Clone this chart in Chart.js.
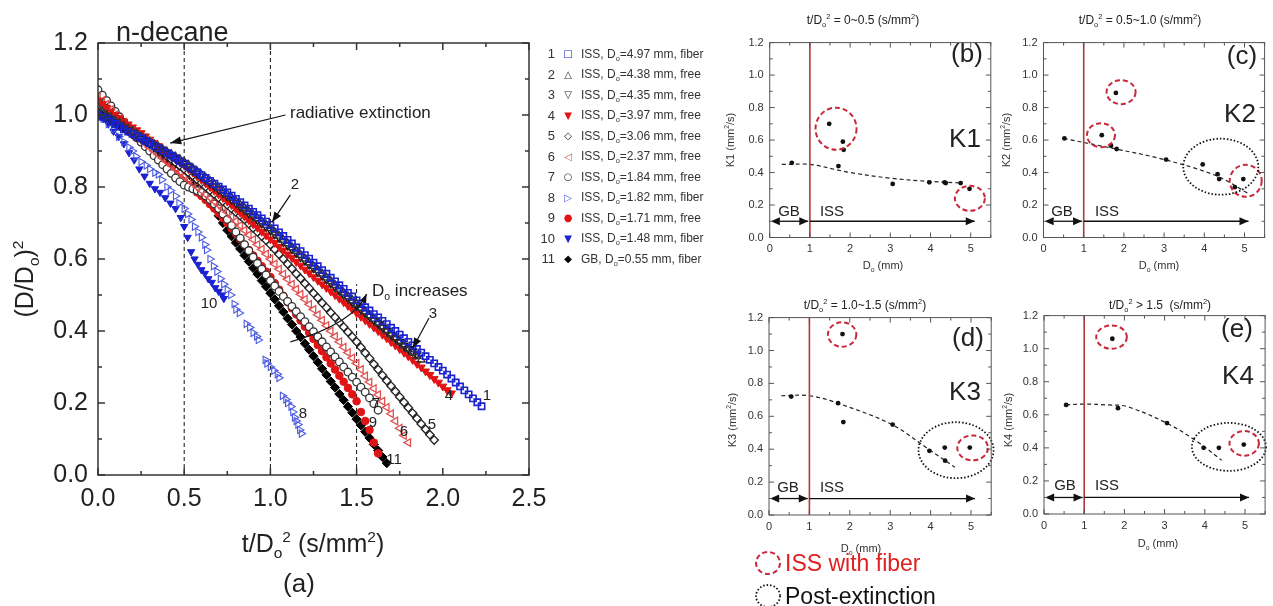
<!DOCTYPE html>
<html><head><meta charset="utf-8">
<script src="https://cdn.jsdelivr.net/npm/chart.js@4.4.1/dist/chart.umd.min.js"></script>
<style>
html,body{margin:0;padding:0;background:#fff;}
#wrap{position:relative;width:1273px;height:606px;overflow:hidden;font-family:"Liberation Sans",Arial,sans-serif;color:#222;}
canvas{position:absolute;}
svg{position:absolute;left:0;top:0;}
.t{position:absolute;white-space:nowrap;line-height:1;transform:translate(-50%,-50%);}
.l{position:absolute;white-space:nowrap;line-height:1;transform:translate(0,-50%);}
.vt{transform:translate(-50%,-50%) rotate(-90deg);}
sub,sup{font-size:0.62em;line-height:0;}
.leg{position:absolute;left:535px;display:flex;align-items:center;transform:translateY(-50%);white-space:nowrap;}
.leg .n{width:20px;text-align:right;font-size:13px;color:#333;}
.leg .m{width:26px;text-align:center;font-family:"DejaVu Sans",sans-serif;font-size:10px;}
.leg .s{font-size:12px;color:#333;}
</style></head>
<body>
<div id="wrap">
  <canvas id="ca"></canvas>
  <canvas id="cb"></canvas>
  <canvas id="cc"></canvas>
  <canvas id="cd"></canvas>
  <canvas id="ce"></canvas>
  <svg width="1273" height="606">
    <ellipse cx="768" cy="563" rx="12" ry="11" fill="none" stroke="#c8283c" stroke-width="2" stroke-dasharray="5 3"/>
    <ellipse cx="768" cy="596" rx="12" ry="11" fill="none" stroke="#111" stroke-width="1.8" stroke-dasharray="1.5 2"/>
  </svg>

  <!-- (a) texts -->
  <div class="l" style="left:116px;top:32px;font-size:27px">n-decane</div>
  <div class="l" style="left:290px;top:112px;font-size:17px">radiative extinction</div>
  <div class="l" style="left:372px;top:290px;font-size:17px">D<sub>o</sub> increases</div>
  <div class="t vt" style="left:24px;top:279px;font-size:25px">(D/D<sub>o</sub>)<sup>2</sup></div>
  <div class="t" style="left:313px;top:543px;font-size:25px">t/D<sub>o</sub><sup>2</sup> (s/mm<sup>2</sup>)</div>
  <div class="t" style="left:299px;top:583px;font-size:26px">(a)</div>
  <div id="alabels"></div>
  <div id="legend"></div>

  <!-- (b) -->
  <div class="t" style="left:863px;top:20px;font-size:12px">t/D<sub>o</sub><sup>2</sup> = 0~0.5 (s/mm<sup>2</sup>)</div>
  <div class="t" style="left:967px;top:53px;font-size:26px">(b)</div>
  <div class="t" style="left:965px;top:138px;font-size:26px">K1</div>
  <div class="t" style="left:789px;top:210px;font-size:15px">GB</div>
  <div class="t" style="left:832px;top:210px;font-size:15px">ISS</div>
  <div class="t" style="left:883px;top:265px;font-size:11px;color:#333">D<sub>o</sub> (mm)</div>
  <div class="t vt" style="left:730px;top:140px;font-size:11px;color:#333">K1 (mm<sup>2</sup>/s)</div>

  <!-- (c) -->
  <div class="t" style="left:1140px;top:20px;font-size:12px">t/D<sub>o</sub><sup>2</sup> = 0.5~1.0 (s/mm<sup>2</sup>)</div>
  <div class="t" style="left:1242px;top:55px;font-size:26px">(c)</div>
  <div class="t" style="left:1240px;top:113px;font-size:26px">K2</div>
  <div class="t" style="left:1062px;top:210px;font-size:15px">GB</div>
  <div class="t" style="left:1107px;top:210px;font-size:15px">ISS</div>
  <div class="t" style="left:1159px;top:265px;font-size:11px;color:#333">D<sub>o</sub> (mm)</div>
  <div class="t vt" style="left:1006px;top:140px;font-size:11px;color:#333">K2 (mm<sup>2</sup>/s)</div>

  <!-- (d) -->
  <div class="t" style="left:865px;top:305px;font-size:12px">t/D<sub>o</sub><sup>2</sup> = 1.0~1.5 (s/mm<sup>2</sup>)</div>
  <div class="t" style="left:968px;top:337px;font-size:26px">(d)</div>
  <div class="t" style="left:965px;top:391px;font-size:26px">K3</div>
  <div class="t" style="left:788px;top:486px;font-size:15px">GB</div>
  <div class="t" style="left:832px;top:486px;font-size:15px">ISS</div>
  <div class="t" style="left:861px;top:548px;font-size:11px;color:#333">D<sub>o</sub> (mm)</div>
  <div class="t vt" style="left:732px;top:420px;font-size:11px;color:#333">K3 (mm<sup>2</sup>/s)</div>
  <div class="l" style="left:785px;top:563px;font-size:23px;color:#e02020">ISS with fiber</div>
  <div class="l" style="left:785px;top:596px;font-size:23px;color:#111">Post-extinction</div>

  <!-- (e) -->
  <div class="t" style="left:1160px;top:305px;font-size:12px">t/D<sub>o</sub><sup>2</sup> &gt; 1.5&nbsp; (s/mm<sup>2</sup>)</div>
  <div class="t" style="left:1237px;top:328px;font-size:26px">(e)</div>
  <div class="t" style="left:1238px;top:375px;font-size:26px">K4</div>
  <div class="t" style="left:1065px;top:484px;font-size:15px">GB</div>
  <div class="t" style="left:1107px;top:484px;font-size:15px">ISS</div>
  <div class="t" style="left:1158px;top:543px;font-size:11px;color:#333">D<sub>o</sub> (mm)</div>
  <div class="t vt" style="left:1008px;top:420px;font-size:11px;color:#333">K4 (mm<sup>2</sup>/s)</div>
</div>

<script>
// ---- data: (a) normalized diameter squared vs t/Do^2 ----
const mainXTicks = [0, 0.5, 1.0, 1.5, 2.0, 2.5]
const mainYTicks = [0, 0.2, 0.4, 0.6, 0.8, 1.0, 1.2]
const regionLines = [[0.5, 1.2], [1.0, 1.2], [1.5, 0.53]]

// sampling times (t/Do^2) shared by the dense series
const tGrid = [0,0.025,0.05,0.075,0.1,0.125,0.15,0.175,0.2,0.225,0.25,0.275,0.3,0.325,0.35,0.375,0.4,0.425,0.45,0.475,
  0.5,0.525,0.55,0.575,0.6,0.625,0.65,0.675,0.7,0.725,0.75,0.775,0.8,0.825,0.85,0.875,0.9,0.925,0.95,0.975,
  1.0,1.025,1.05,1.075,1.1,1.125,1.15,1.175,1.2,1.225,1.25,1.275,1.3,1.325,1.35,1.375,1.4,1.425,1.45,1.475,
  1.5,1.525,1.55,1.575,1.6,1.625,1.65,1.675,1.7,1.725,1.75,1.775,1.8,1.825,1.85,1.875,1.9,1.925,1.95,1.975,
  2.0,2.025,2.05,2.075,2.1,2.125,2.15,2.175,2.2,2.225]

const d1 = [1.00,0.995,0.99,0.982,0.975,0.968,0.96,0.954,0.948,0.941,0.935,
  0.928,0.922,0.915,0.908,0.901,0.894,0.887,0.88,0.872,0.865,
  0.857,0.849,0.841,0.833,0.825,0.817,0.809,0.801,0.793,0.785,
  0.776,0.767,0.758,0.749,0.74,0.731,0.722,0.713,0.704,0.695,
  0.685,0.674,0.664,0.653,0.643,0.632,0.622,0.611,0.601,0.59,
  0.58,0.569,0.559,0.548,0.538,0.527,0.517,0.506,0.496,0.485,
  0.476,0.466,0.457,0.447,0.438,0.428,0.419,0.409,0.4,0.39,
  0.38,0.37,0.36,0.35,0.34,0.33,0.32,0.31,0.3,0.29,
  0.279,0.268,0.257,0.246,0.235,0.224,0.213,0.202,0.191]
const d2 = [1.02,1.01,1.0,0.993,0.985,0.978,0.97,0.962,0.955,0.948,0.94,
  0.933,0.926,0.919,0.912,0.905,0.898,0.891,0.884,0.877,0.87,
  0.861,0.852,0.843,0.834,0.825,0.816,0.807,0.798,0.789,0.78,
  0.77,0.761,0.751,0.742,0.732,0.723,0.713,0.704,0.694,0.685,
  0.674,0.664,0.653,0.643,0.632,0.622,0.611,0.601,0.59,0.58,
  0.569,0.559,0.548,0.538,0.527,0.517,0.506,0.496,0.485,0.475,
  0.464,0.454,0.443,0.433,0.422,0.412,0.401,0.391,0.38,0.37,
  0.36,0.35,0.34,0.33,0.32]
const d3 = [1.01,1.002,0.995,0.988,0.98,0.972,0.965,0.958,0.95,0.942,0.935,
  0.928,0.921,0.914,0.907,0.9,0.893,0.886,0.879,0.872,0.865,
  0.856,0.847,0.838,0.829,0.82,0.811,0.802,0.793,0.784,0.775,
  0.765,0.756,0.746,0.737,0.727,0.718,0.708,0.699,0.689,0.68,
  0.669,0.659,0.648,0.638,0.627,0.617,0.606,0.596,0.585,0.575,
  0.564,0.554,0.543,0.533,0.522,0.512,0.501,0.491,0.48,0.47,
  0.46,0.45,0.44,0.43,0.42,0.41,0.4,0.39,0.38,0.37,
  0.36,0.35,0.343,0.335]
const d4 = [1.04,1.03,1.02,1.01,1.0,0.991,0.982,0.974,0.966,0.958,0.95,
  0.941,0.932,0.923,0.914,0.905,0.896,0.887,0.878,0.869,0.86,
  0.85,0.84,0.83,0.82,0.81,0.80,0.79,0.78,0.77,0.76,
  0.75,0.739,0.729,0.718,0.708,0.697,0.687,0.676,0.666,0.655,
  0.645,0.634,0.624,0.613,0.603,0.592,0.582,0.571,0.561,0.55,
  0.54,0.53,0.52,0.51,0.5,0.49,0.48,0.47,0.46,0.45,
  0.44,0.43,0.42,0.41,0.4,0.39,0.38,0.37,0.36,0.35,
  0.34,0.33,0.32,0.309,0.299,0.288,0.278,0.267,0.257,0.246,
  0.236,0.227]
const d5 = [1.03,1.02,1.01,1.002,0.995,0.986,0.977,0.968,0.958,0.949,0.94,
  0.931,0.922,0.913,0.904,0.895,0.886,0.877,0.868,0.859,0.85,
  0.84,0.831,0.821,0.812,0.801,0.79,0.78,0.77,0.76,0.75,
  0.74,0.73,0.72,0.71,0.698,0.686,0.675,0.663,0.652,0.64,
  0.627,0.613,0.6,0.586,0.573,0.559,0.546,0.532,0.519,0.505,
  0.492,0.478,0.465,0.451,0.438,0.424,0.411,0.397,0.384,0.37,
  0.355,0.339,0.324,0.308,0.293,0.277,0.262,0.247,0.232,0.217,
  0.202,0.187,0.172,0.157,0.142,0.127,0.112,0.097]
const d6 = [1.05,1.04,1.03,1.015,1.0,0.99,0.98,0.968,0.955,0.943,0.93,
  0.92,0.91,0.9,0.89,0.88,0.87,0.86,0.85,0.84,0.83,
  0.82,0.81,0.8,0.79,0.78,0.77,0.76,0.75,0.74,0.73,
  0.718,0.705,0.693,0.68,0.667,0.654,0.64,0.627,0.614,0.6,
  0.586,0.572,0.558,0.544,0.53,0.516,0.502,0.488,0.474,0.46,
  0.445,0.43,0.415,0.4,0.385,0.37,0.355,0.34,0.325,0.31,
  0.293,0.275,0.258,0.24,0.223,0.205,0.188,0.17,0.15,0.13,
  0.11,0.09]
const d7 = [1.07,1.055,1.04,1.025,1.01,0.995,0.98,0.965,0.95,0.938,0.925,
  0.912,0.9,0.887,0.875,0.862,0.85,0.838,0.825,0.815,0.805,
  0.8,0.795,0.79,0.785,0.775,0.765,0.753,0.74,0.725,0.71,
  0.693,0.675,0.658,0.64,0.623,0.605,0.588,0.572,0.556,0.54,
  0.525,0.51,0.496,0.482,0.468,0.454,0.44,0.426,0.412,0.398,
  0.384,0.37,0.356,0.342,0.328,0.314,0.3,0.286,0.272,0.258,
  0.244,0.23,0.214,0.198,0.18]
const d9 = [1.04,1.03,1.02,1.008,0.995,0.983,0.97,0.959,0.948,0.936,0.925,
  0.914,0.903,0.892,0.88,0.869,0.858,0.847,0.836,0.825,0.815,
  0.805,0.795,0.785,0.775,0.764,0.752,0.74,0.727,0.714,0.70,
  0.685,0.67,0.655,0.64,0.625,0.61,0.595,0.58,0.565,0.55,
  0.533,0.515,0.498,0.48,0.463,0.446,0.429,0.412,0.395,0.378,
  0.361,0.344,0.327,0.31,0.293,0.276,0.259,0.242,0.224,0.205,
  0.175,0.15,0.125,0.09,0.06]
const d11 = [1.01,1.002,0.995,0.987,0.98,0.971,0.963,0.955,0.946,0.938,0.93,
  0.922,0.913,0.905,0.896,0.888,0.88,0.872,0.865,0.857,0.85,
  0.838,0.825,0.811,0.797,0.781,0.764,0.742,0.72,0.7,0.68,
  0.663,0.645,0.628,0.61,0.593,0.575,0.558,0.54,0.523,0.505,
  0.488,0.47,0.453,0.435,0.418,0.4,0.383,0.365,0.348,0.33,
  0.313,0.295,0.278,0.26,0.243,0.225,0.208,0.19,0.173,0.155,
  0.138,0.12,0.103,0.085,0.068,0.05,0.033]
// sparse fiber runs, read point by point
const s8 = [[0,1.0],[0.03,0.99],[0.06,0.975],[0.09,0.96],[0.12,0.94],[0.15,0.925],[0.18,0.91],[0.2,0.9],[0.22,0.885],[0.25,0.87],[0.28,0.86],[0.3,0.85],[0.33,0.84],[0.35,0.835],[0.37,0.82],[0.4,0.8],[0.42,0.79],[0.45,0.775],[0.47,0.755],[0.5,0.74],[0.52,0.725],[0.54,0.71],[0.56,0.69],[0.58,0.675],[0.6,0.66],[0.62,0.64],[0.63,0.625],[0.65,0.6],[0.67,0.58],[0.69,0.565],[0.71,0.545],[0.73,0.53],[0.75,0.515],[0.77,0.5],[0.79,0.475],[0.8,0.46],[0.82,0.45],[0.86,0.42],[0.88,0.41],[0.9,0.395],[0.92,0.385],[0.93,0.375],[0.97,0.32],[0.98,0.31],[1.0,0.3],[1.02,0.29],[1.04,0.28],[1.05,0.27],[1.07,0.22],[1.09,0.21],[1.1,0.2],[1.12,0.19],[1.13,0.175],[1.14,0.16],[1.15,0.15],[1.16,0.14],[1.17,0.125],[1.18,0.115]]
const s10 = [[0,1.0],[0.03,0.99],[0.06,0.975],[0.09,0.955],[0.12,0.94],[0.15,0.92],[0.18,0.895],[0.21,0.875],[0.24,0.85],[0.27,0.83],[0.3,0.81],[0.33,0.795],[0.36,0.785],[0.39,0.77],[0.42,0.755],[0.45,0.74],[0.48,0.715],[0.5,0.69],[0.52,0.66],[0.54,0.62],[0.56,0.6],[0.58,0.585],[0.6,0.57],[0.62,0.56],[0.64,0.545],[0.66,0.535],[0.68,0.52],[0.7,0.51],[0.72,0.5],[0.73,0.49]]

const onGrid = (ys) => ys.map((y, i) => [tGrid[i], y])
const mainSeries = [onGrid(d1), onGrid(d2), onGrid(d3), onGrid(d4), onGrid(d5), onGrid(d6), onGrid(d7), s8, onGrid(d9), s10, onGrid(d11)]

const legendSrc = ['ISS','ISS','ISS','ISS','ISS','ISS','ISS','ISS','ISS','ISS','GB']
const legendDo = ['4.97','4.38','4.35','3.97','3.06','2.37','1.84','1.82','1.71','1.48','0.55']
const legendMount = ['fiber','free','free','free','free','free','free','fiber','free','fiber','fiber']

// ---- data: (b)-(e) rate constants vs Do ----
const doTicks = [0, 1, 2, 3, 4, 5]
const kTicks = [0, 0.2, 0.4, 0.6, 0.8, 1.0, 1.2]
const k1Pts = [[0.55,0.46],[1.48,0.70],[1.82,0.59],[1.84,0.54],[1.71,0.44],[3.06,0.33],[3.97,0.34],[4.35,0.34],[4.38,0.335],[4.75,0.335],[4.97,0.30]]
const k1Fit = [[0.3,0.45],[1.0,0.45],[1.7,0.415],[2.0,0.40],[3.0,0.365],[4.0,0.345],[4.8,0.335]]
const k2Pts = [[0.52,0.61],[1.45,0.63],[1.80,0.89],[1.68,0.565],[1.82,0.545],[3.05,0.48],[3.96,0.45],[4.33,0.39],[4.37,0.36],[4.76,0.31],[4.97,0.36]]
const k2Fit = [[0.5,0.61],[1.7,0.55],[3.0,0.48],[4.3,0.38],[5.1,0.27]]
const k3Pts = [[0.55,0.72],[1.82,1.10],[1.71,0.68],[1.84,0.565],[3.06,0.55],[3.97,0.39],[4.35,0.41],[4.36,0.33],[4.97,0.41]]
const k3Fit = [[0.3,0.725],[1.0,0.725],[1.7,0.68],[3.04,0.55],[3.95,0.40],[4.6,0.29]]
const k4Pts = [[0.55,0.66],[1.70,1.06],[1.84,0.64],[3.06,0.55],[3.97,0.40],[4.35,0.40],[4.97,0.42]]
const k4Fit = [[0.55,0.66],[1.0,0.665],[1.56,0.66],[2.06,0.65],[3.05,0.55],[3.8,0.44],[4.42,0.325]]
// GB / ISS ranges at K = 0.1
const gbRange = [0.03, 0.96]
const issRange = [1.0, 5.1]

// ---- styling ----
Chart.defaults.font.family = '"Liberation Sans", Arial, sans-serif'
const markStyles = [
  { ps: 'rect', rot: 0, r: 4.4, w: 1.6, c: '#1a22d0', bg: 'rgba(0,0,0,0)', g: '\u25A1' },
  { ps: 'triangle', rot: 0, r: 4.4, w: 1.4, c: '#333', bg: 'rgba(0,0,0,0)', g: '\u25B3' },
  { ps: 'triangle', rot: 180, r: 4.4, w: 1.4, c: '#111', bg: 'rgba(0,0,0,0)', g: '\u25BD' },
  { ps: 'triangle', rot: 180, r: 4.6, w: 1, c: '#e01414', bg: '#e01414', g: '\u25BC' },
  { ps: 'rectRot', rot: 0, r: 4.2, w: 1.3, c: '#222', bg: '#fff', g: '\u25C7' },
  { ps: 'triangle', rot: 270, r: 4.4, w: 1.3, c: '#e05050', bg: 'rgba(0,0,0,0)', g: '\u25C1' },
  { ps: 'circle', rot: 0, r: 3.8, w: 1.3, c: '#333', bg: '#fff', g: '\u25CB' },
  { ps: 'triangle', rot: 90, r: 4.2, w: 1.1, c: '#4a5ae0', bg: 'rgba(0,0,0,0)', g: '\u25B7' },
  { ps: 'circle', rot: 0, r: 3.8, w: 1, c: '#e01414', bg: '#e01414', g: '\u25CF' },
  { ps: 'triangle', rot: 180, r: 4.2, w: 1, c: '#1a22d0', bg: '#1a22d0', g: '\u25BC' },
  { ps: 'rectRot', rot: 0, r: 4.6, w: 1, c: '#000', bg: '#000', g: '\u25C6' },
]
const curveLabels = [
  ['1', 487, 394], ['4', 449, 394], ['5', 432, 423], ['6', 404, 430], ['7', 376, 402],
  ['9', 373, 421], ['11', 394, 458], ['8', 303, 412], ['10', 209, 302], ['2', 295, 183], ['3', 433, 312],
]

function head(ctx, x1, y1, x2, y2, len, hw) {
  const a = Math.atan2(y2 - y1, x2 - x1)
  ctx.beginPath()
  ctx.moveTo(x2, y2)
  ctx.lineTo(x2 - len * Math.cos(a) + hw * Math.sin(a), y2 - len * Math.sin(a) - hw * Math.cos(a))
  ctx.lineTo(x2 - len * Math.cos(a) - hw * Math.sin(a), y2 - len * Math.sin(a) + hw * Math.cos(a))
  ctx.closePath()
  ctx.fill()
}
function arrow(ctx, x1, y1, x2, y2, len, hw) {
  ctx.beginPath()
  ctx.moveTo(x1, y1)
  ctx.lineTo(x2, y2)
  ctx.stroke()
  head(ctx, x1, y1, x2, y2, len, hw)
}

// frame with inward ticks on all four sides
function frameTicks(o) {
  return {
    id: 'frameTicks',
    afterDraw(chart) {
      const { ctx, chartArea: a, scales: { x, y } } = chart
      ctx.save()
      ctx.strokeStyle = o.color
      ctx.lineWidth = o.width
      ctx.strokeRect(a.left, a.top, a.right - a.left, a.bottom - a.top)
      ctx.beginPath()
      for (let k = 0; x.min + k * o.xStep <= x.max + 1e-9; k++) {
        const px = x.getPixelForValue(x.min + k * o.xStep)
        const len = k % 2 === 0 ? o.major : o.minor
        ctx.moveTo(px, a.bottom); ctx.lineTo(px, a.bottom - len)
        ctx.moveTo(px, a.top); ctx.lineTo(px, a.top + len)
      }
      for (let k = 0; y.min + k * o.yStep <= y.max + 1e-9; k++) {
        const py = y.getPixelForValue(y.min + k * o.yStep)
        const len = k % 2 === 0 ? o.major : o.minor
        ctx.moveTo(a.left, py); ctx.lineTo(a.left + len, py)
        ctx.moveTo(a.right, py); ctx.lineTo(a.right - len, py)
      }
      ctx.stroke()
      ctx.restore()
    },
  }
}

const mainDecor = {
  id: 'mainDecor',
  beforeDatasetsDraw(chart) {
    const { ctx, scales: { x, y } } = chart
    ctx.save()
    ctx.strokeStyle = '#111'
    ctx.lineWidth = 1
    ctx.setLineDash([4, 3])
    regionLines.forEach(([xv, yTop]) => {
      ctx.beginPath()
      ctx.moveTo(x.getPixelForValue(xv), y.getPixelForValue(0))
      ctx.lineTo(x.getPixelForValue(xv), y.getPixelForValue(yTop))
      ctx.stroke()
    })
    ctx.restore()
  },
  afterDatasetsDraw(chart) {
    const { ctx, scales: { x, y } } = chart
    const X = (v) => x.getPixelForValue(v)
    const Y = (v) => y.getPixelForValue(v)
    ctx.save()
    ctx.strokeStyle = '#111'
    ctx.fillStyle = '#111'
    ctx.lineWidth = 1.2
    arrow(ctx, X(1.087), Y(1.0), X(0.419), Y(0.922), 11, 4)
    arrow(ctx, X(1.116), Y(0.778), X(1.01), Y(0.703), 10, 4)
    arrow(ctx, X(1.92), Y(0.436), X(1.826), Y(0.353), 10, 4)
    ctx.beginPath()
    ctx.moveTo(X(1.116), Y(0.37))
    ctx.quadraticCurveTo(X(1.48), Y(0.42), X(1.558), Y(0.503))
    ctx.stroke()
    head(ctx, X(1.48), Y(0.42), X(1.558), Y(0.503), 9, 3.5)
    ctx.restore()
  },
}

function smallDecor(ells) {
  return {
    id: 'smallDecor',
    afterDatasetsDraw(chart) {
      const { ctx, scales: { x, y } } = chart
      const X = (v) => x.getPixelForValue(v)
      const Y = (v) => y.getPixelForValue(v)
      ctx.save()
      ctx.strokeStyle = '#b03a3a'
      ctx.lineWidth = 1.6
      ctx.beginPath()
      ctx.moveTo(X(1), Y(0)); ctx.lineTo(X(1), Y(1.2))
      ctx.stroke()
      ctx.strokeStyle = '#111'
      ctx.fillStyle = '#111'
      ctx.lineWidth = 1.3
      const ya = Y(0.1)
      arrow(ctx, X(gbRange[0]) + 9, ya, X(gbRange[1]), ya, 9, 4)
      head(ctx, X(gbRange[1]), ya, X(gbRange[0]), ya, 9, 4)
      arrow(ctx, X(issRange[0]), ya, X(issRange[1]), ya, 9, 4)
      ells.forEach((e) => {
        ctx.beginPath()
        if (e.red) {
          ctx.strokeStyle = '#c8283c'; ctx.lineWidth = 2; ctx.setLineDash([5, 3])
        } else {
          ctx.strokeStyle = '#111'; ctx.lineWidth = 1.8; ctx.setLineDash([1.5, 2])
        }
        ctx.ellipse(X(e.x), Y(e.y), e.rx, e.ry, 0, 0, Math.PI * 2)
        ctx.stroke()
      })
      ctx.restore()
    },
  }
}

// ---- (a) ----
const ca = document.getElementById('ca')
ca.width = 556; ca.height = 606
ca.style.left = '0px'; ca.style.top = '0px'
new Chart(ca, {
  type: 'scatter',
  data: {
    datasets: mainSeries.map((s, i) => ({
      data: s.map(([x, y]) => ({ x, y })),
      pointStyle: markStyles[i].ps,
      rotation: markStyles[i].rot,
      pointRadius: markStyles[i].r,
      pointBorderWidth: markStyles[i].w,
      pointBorderColor: markStyles[i].c,
      pointBackgroundColor: markStyles[i].bg,
    })),
  },
  options: {
    responsive: false,
    animation: false,
    events: [],
    layout: { padding: { left: 0, top: 43, right: 27, bottom: 0 } },
    plugins: { legend: { display: false }, tooltip: { enabled: false } },
    scales: {
      x: {
        type: 'linear', min: 0, max: 2.5,
        grid: { display: false, drawTicks: false }, border: { display: false },
        afterBuildTicks: (s) => { s.ticks = mainXTicks.map((v) => ({ value: v })) },
        ticks: { padding: 9, color: '#222', font: { size: 25 }, maxRotation: 0, autoSkip: false, callback: (v) => v.toFixed(1) },
        afterFit: (s) => { s.height = 131 },
      },
      y: {
        type: 'linear', min: 0, max: 1.2,
        grid: { display: false, drawTicks: false }, border: { display: false },
        afterBuildTicks: (s) => { s.ticks = mainYTicks.map((v) => ({ value: v })) },
        ticks: { padding: 10, color: '#222', font: { size: 25 }, autoSkip: false, callback: (v) => v.toFixed(1) },
        afterFit: (s) => { s.width = 98 },
      },
    },
  },
  plugins: [mainDecor, frameTicks({ color: '#333', width: 1.5, xStep: 0.25, yStep: 0.1, major: 7, minor: 4 })],
})

// curve labels and legend (text)
const al = document.getElementById('alabels')
curveLabels.forEach(([txt, lx, ly]) => {
  const d = document.createElement('div')
  d.className = 't'
  d.style.cssText = `left:${lx}px;top:${ly}px;font-size:15px`
  d.textContent = txt
  al.appendChild(d)
})
const lg = document.getElementById('legend')
legendDo.forEach((dv, i) => {
  const row = document.createElement('div')
  row.className = 'leg'
  row.style.top = (53.3 + i * 20.5) + 'px'
  row.innerHTML = `<span class="n">${i + 1}</span><span class="m" style="color:${markStyles[i].c}">${markStyles[i].g}</span>` +
    `<span class="s">${legendSrc[i]}, D<sub>o</sub>=${dv} mm, ${legendMount[i]}</span>`
  lg.appendChild(row)
})

// ---- (b)-(e) ----
function smallChart(id, box, area, pts, fit, ells) {
  const cv = document.getElementById(id)
  cv.width = box.w; cv.height = box.h
  cv.style.left = box.left + 'px'; cv.style.top = box.top + 'px'
  new Chart(cv, {
    type: 'scatter',
    data: {
      datasets: [
        { data: pts.map(([x, y]) => ({ x, y })), pointRadius: 2.4, pointBorderWidth: 0, pointBackgroundColor: '#111' },
        { type: 'line', data: fit.map(([x, y]) => ({ x, y })), borderColor: '#222', borderWidth: 1.2, borderDash: [4, 3], pointRadius: 0, tension: 0.35, fill: false },
      ],
    },
    options: {
      responsive: false,
      animation: false,
      events: [],
      layout: { padding: { left: 0, top: area.t - box.top, right: box.left + box.w - area.r, bottom: 0 } },
      plugins: { legend: { display: false }, tooltip: { enabled: false } },
      scales: {
        x: {
          type: 'linear', min: 0, max: 5.5,
          grid: { display: false, drawTicks: false }, border: { display: false },
          afterBuildTicks: (s) => { s.ticks = doTicks.map((v) => ({ value: v })) },
          ticks: { padding: 5, color: '#333', font: { size: 11 }, maxRotation: 0, autoSkip: false, callback: (v) => String(v) },
          afterFit: (s) => { s.height = box.top + box.h - area.b },
        },
        y: {
          type: 'linear', min: 0, max: 1.2,
          grid: { display: false, drawTicks: false }, border: { display: false },
          afterBuildTicks: (s) => { s.ticks = kTicks.map((v) => ({ value: v })) },
          ticks: { padding: 6, color: '#333', font: { size: 11 }, autoSkip: false, callback: (v) => v.toFixed(1) },
          afterFit: (s) => { s.width = area.l - box.left },
        },
      },
    },
    plugins: [smallDecor(ells), frameTicks({ color: '#555', width: 1, xStep: 0.5, yStep: 0.1, major: 5, minor: 3 })],
  })
}

smallChart('cb', { left: 720, top: 30, w: 280, h: 232 }, { l: 769.7, r: 990.8, t: 42.5, b: 237.5 }, k1Pts, k1Fit, [
  { x: 1.65, y: 0.67, rx: 20.5, ry: 21, red: true },
  { x: 4.98, y: 0.241, rx: 15, ry: 12.5, red: true },
])
smallChart('cc', { left: 995, top: 30, w: 278, h: 232 }, { l: 1043.5, r: 1264.6, t: 42.5, b: 237.5 }, k2Pts, k2Fit, [
  { x: 1.43, y: 0.63, rx: 14, ry: 12, red: true },
  { x: 1.93, y: 0.895, rx: 14.5, ry: 12, red: true },
  { x: 5.03, y: 0.349, rx: 16, ry: 16, red: true },
  { x: 4.41, y: 0.436, rx: 37.5, ry: 28, red: false },
])
smallChart('cd', { left: 720, top: 305, w: 280, h: 236 }, { l: 769, r: 991.2, t: 317, b: 515 }, k3Pts, k3Fit, [
  { x: 1.81, y: 1.097, rx: 14.2, ry: 12.2, red: true },
  { x: 5.04, y: 0.408, rx: 15.3, ry: 12.5, red: true },
  { x: 4.63, y: 0.394, rx: 37.5, ry: 28, red: false },
])
smallChart('ce', { left: 995, top: 303, w: 278, h: 236 }, { l: 1044, r: 1265.1, t: 315.2, b: 514 }, k4Pts, k4Fit, [
  { x: 1.68, y: 1.07, rx: 15.3, ry: 11.7, red: true },
  { x: 4.98, y: 0.427, rx: 14.7, ry: 12.3, red: true },
  { x: 4.60, y: 0.406, rx: 37, ry: 24, red: false },
])
</script>
</body></html>
